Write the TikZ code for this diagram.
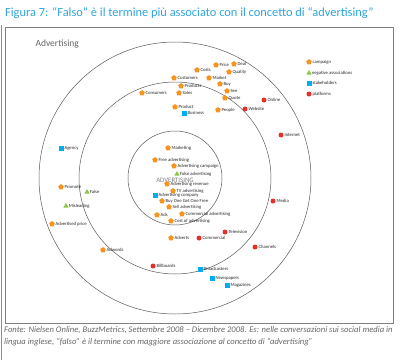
\documentclass[tikz,border=0pt]{standalone}
\usepackage{fontspec}
\setmainfont{Carlito}
\usetikzlibrary{shapes.geometric}
\definecolor{orng}{HTML}{F7941D}
\definecolor{grn}{HTML}{8DC63F}
\definecolor{blu}{HTML}{00AEEF}
\definecolor{rd}{HTML}{E8302A}
\definecolor{ttl}{HTML}{2FA4DC}
\tikzset{
  lbl/.style={font=\fontsize{4.7}{5}\selectfont, inner sep=0.7pt, text=black!85},
  camp/.style={regular polygon, regular polygon sides=5, fill=orng, inner sep=0pt,
    minimum size=5.8pt, label={[lbl]right:#1}},
  neg/.style={regular polygon, regular polygon sides=3, fill=grn, inner sep=0pt,
    minimum size=6pt, label={[lbl]right:#1}},
  stake/.style={rectangle, fill=blu, inner sep=0pt, minimum size=5pt, label={[lbl]right:#1}},
  plat/.style={circle, fill=rd, inner sep=0pt, minimum size=5pt, label={[lbl]right:#1}},
  ring/.style={draw=black!65, line width=0.5pt}
}
\begin{document}
\begin{tikzpicture}[x=1pt,y=-1pt]
\useasboundingbox (0,0) rectangle (400,360);
% title and frame
\node[anchor=west, text=ttl, font=\fontsize{12.4}{13}\selectfont, inner sep=0pt] (title) at (5,13)
  {Figura 7: “Falso” è il termine più associato con il concetto di “advertising”};
\draw[black!50, line width=0.6pt] (5,27) rectangle (393,323);
\draw[black!45, line width=1pt] (1,25) -- (1,360);
\node[anchor=west, text=black!60, font=\fontsize{9.5}{10}\selectfont] (topic) at (32,44) {Advertising};
% rings
\coordinate (ctr) at (175,178);
\draw[ring] (ctr) circle (47) (ctr) circle (96) (ctr) circle (136);
\node[text=black!50, font=\fontsize{6.8}{7}\selectfont, inner sep=0pt] (core) at (175,180) {ADVERTISING};
% campaign
\foreach \x/\y/\t [count=\i] in {197/70/Costs, 216/65/Price, 234/64/Deal, 229/72/Quality,
    174/78/Customers, 209/78/Market, 181/86/Products, 220/84/Buy, 142/93/Consumers,
    179/93/Sales, 227/91/See, 225/98/Quote, 175/107/Product, 218/110/People,
    168/148/Marketing, 155/160/Free advertising, 174/166/Advertising campaign,
    167/184/Advertising revenue, 173/191/TV advertising, 162/201/Buy One Get One Free,
    169/207/Sell advertising, 157/215/Ads, 182/214/Commercial advertising,
    171/221/Cost of advertising, 171/238/Adverts, 61/187/Promote,
    52/224/Advertised price, 103/250/Adwords}
  \node[camp=\t] (camp\i) at (\x,\y) {};
% negative associations
\foreach \x/\y/\t [count=\i] in {177/174/False advertising, 87/192/False, 66/206/Misleading}
  \node[neg=\t] (neg\i) at (\x,\y) {};
% stakeholders
\foreach \x/\y/\t [count=\i] in {184/113/Business, 155/195/Advertising company, 61/148/Agency,
    200/269/Broadcasters, 212/278/Newspapers, 227/285/Magazines}
  \node[stake=\t] (stake\i) at (\x,\y) {};
% platforms
\foreach \x/\y/\t [count=\i] in {264/100/Online, 245/109/Website, 281/135/Internet,
    273/201/Media, 255/247/Channels, 225/232/Television, 199/238/Commercial, 153/266/Billboards}
  \node[plat=\t] (plat\i) at (\x,\y) {};
% legend
\node[camp=campaign] (keyc) at (309,62) {};
\node[neg=negative associations] (keyn) at (309,73) {};
\node[stake=stakeholders] (keys) at (309,83) {};
\node[plat=platforms] (keyp) at (309,94) {};
% source
\node[anchor=north west, align=left, text=black!60, inner sep=0pt,
  font=\fontsize{8.6}{12}\selectfont\itshape] (source) at (4,326)
  {Fonte: Nielsen Online, BuzzMetrics, Settembre 2008 – Dicembre 2008. Es: nelle conversazioni sui social media in\\
   lingua inglese, “falso” è il termine con maggiore associazione al concetto di “advertising”};
\end{tikzpicture}
\end{document}
